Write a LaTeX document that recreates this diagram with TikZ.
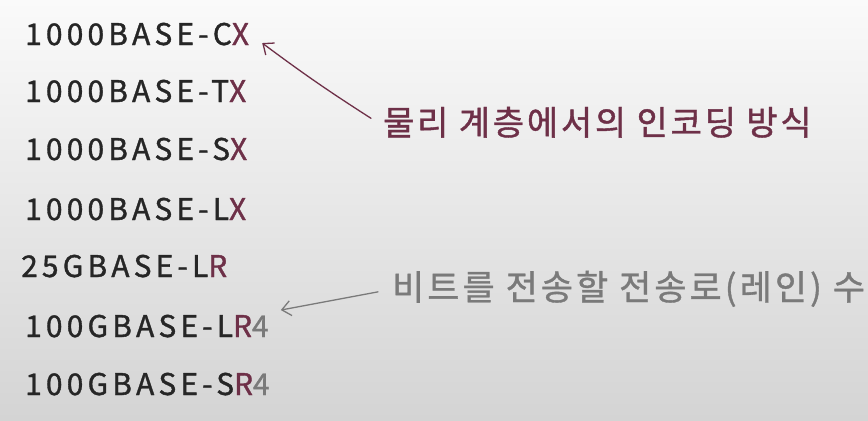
\documentclass[tikz,border=0pt]{standalone}
\usepackage{fontspec}
\setmainfont{Noto Sans CJK KR}
\newfontfamily\labfont[LetterSpace=14,FakeBold=1.2]{Noto Sans CJK KR}
\newfontfamily\korfont[LetterSpace=8.5,FakeBold=1.2]{Noto Sans CJK KR}
\newfontfamily\korfontw[LetterSpace=9,FakeBold=1]{Noto Sans CJK KR}
\usetikzlibrary{arrows.meta,calc}
\definecolor{mauve}{HTML}{6E3048}
\definecolor{grtext}{HTML}{7A7A7A}
\definecolor{bgtop}{HTML}{FAFAFA}
\definecolor{bgbot}{HTML}{D4D4D4}
\definecolor{ink}{HTML}{262626}
\begin{document}
\begin{tikzpicture}[x=1bp,y=-1bp,
  lab/.style={anchor=base west, inner sep=0pt, text=ink, font=\labfont\fontsize{30}{30}\selectfont},
  note/.style={anchor=base west, inner sep=0pt, font=\korfont\fontsize{34}{34}\selectfont},
  notew/.style={anchor=base west, inner sep=0pt, font=\korfontw\fontsize{35}{35}\selectfont},
  arr/.style={line width=1.3pt, line cap=round, -{Straight Barb[length=9pt,width=15pt,line width=1.3pt]}}]
\shade[top color=bgtop, bottom color=bgbot] (0,0) rectangle (868,420);
\useasboundingbox (0,0) rectangle (868,420);
\node[lab] (cx)   at (25,45)  {1000BASE-C\textcolor{mauve}{X}};
\node[lab] (tx)   at (25,102) {1000BASE-T\textcolor{mauve}{X}};
\node[lab] (sx)   at (25,160) {1000BASE-S\textcolor{mauve}{X}};
\node[lab] (lx)   at (25,220) {1000BASE-L\textcolor{mauve}{X}};
\node[lab] (lr)   at (21,277) {25GBASE-L\textcolor{mauve}{R}};
\node[lab] (lr4)  at (25,337) {100GBASE-L\textcolor{mauve}{R}\textcolor{grtext}{4}};
\node[lab] (sr4)  at (25,395) {100GBASE-S\textcolor{mauve}{R}\textcolor{grtext}{4}};
\node[note, text=mauve] (enc) at (383,135) {물리 계층에서의 인코딩 방식};
\node[notew, text=grtext] (lane) at (392,300) {비트를 전송할 전송로(레인) 수};
\draw[arr, mauve] ($(enc.west)+(-12,-4)$) to[bend left=2] ($(cx.east)+(13,9)$);
\draw[arr, grtext] ($(lane.west)+(-14,3)$) -- ($(lr4.east)+(12,-16)$);
\end{tikzpicture}
\end{document}
